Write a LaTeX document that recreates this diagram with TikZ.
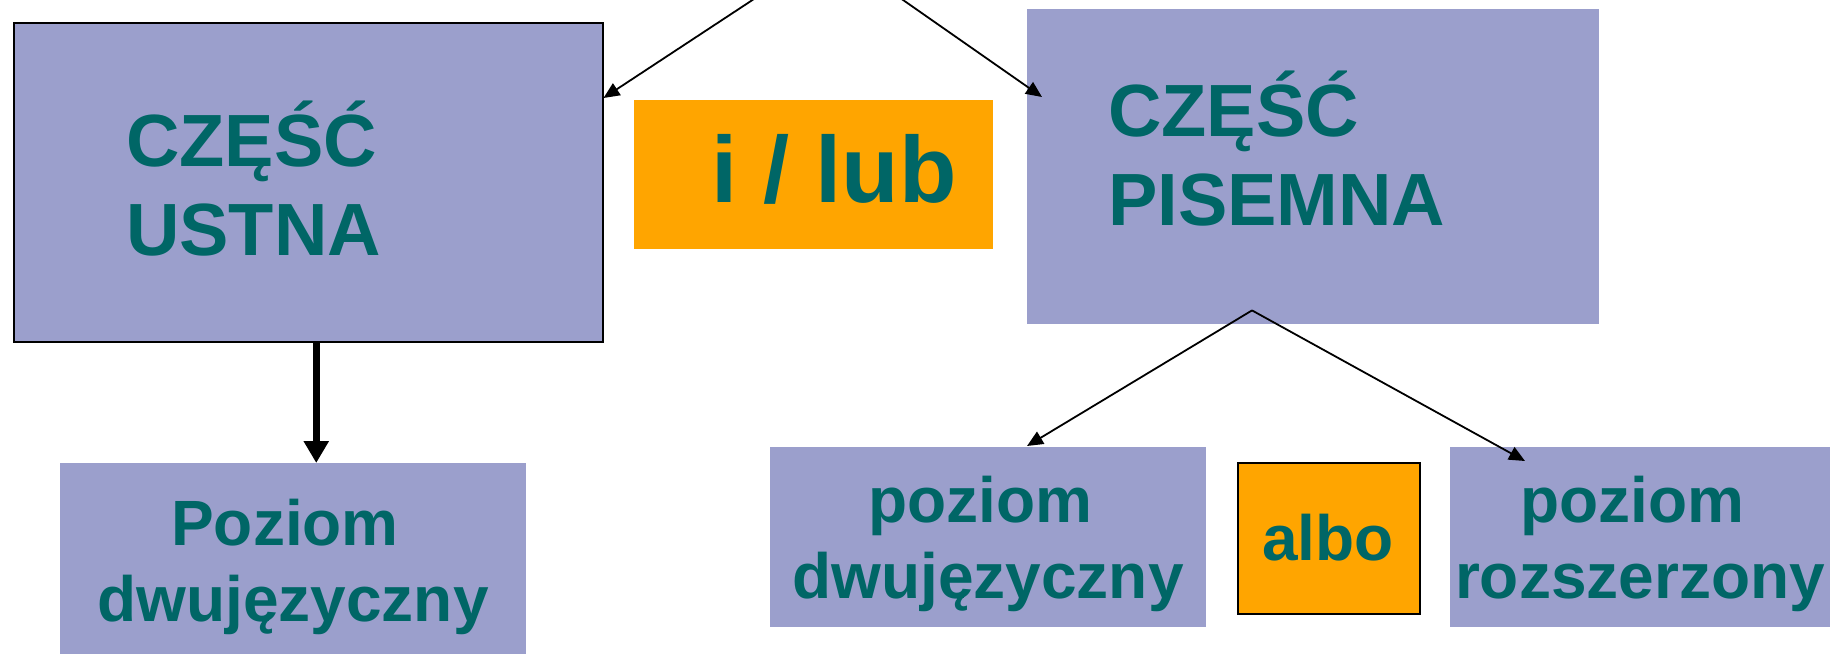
\documentclass[tikz,border=0pt]{standalone}
\usepackage{fontspec}
\setmainfont{Liberation Sans}
\usetikzlibrary{arrows.meta, calc, positioning}

\definecolor{lila}{RGB}{155,159,204}
\definecolor{morski}{RGB}{0,102,102}
\definecolor{pomar}{RGB}{255,165,0}

\tikzset{
  blok/.style={fill=lila, inner sep=0pt, anchor=north west},
  wybor/.style={fill=pomar, inner sep=0pt, anchor=north west},
  duzy/.style={text=morski, inner sep=0pt, align=left, anchor=base west,
    font=\bfseries\fontsize{74}{89}\selectfont},
  maly/.style={text=morski, inner sep=0pt, align=center, anchor=base,
    font=\bfseries\fontsize{64}{76}\selectfont},
  strzalka/.style={line width=1.8pt, -{Triangle[length=16pt, width=14pt]}},
  gruba/.style={line width=7pt, -{Triangle[length=22pt, width=24pt]}}
}
\newcommand{\odstep}{\kern16pt}

\begin{document}
\begin{tikzpicture}[x=1pt, y=-1pt]
  \clip (0,0) rectangle (1830,653);
  \fill[white] (0,0) rectangle (1830,653);

  % gorny rzad
  \node[blok, draw, line width=1.5pt, minimum width=589pt, minimum height=319pt] (ustna) at (13,22) {};
  \node[wybor, minimum width=359pt, minimum height=149pt] (ilub) at (634,100) {};
  \node[blok, minimum width=572pt, minimum height=315pt] (pisemna) at (1027,9) {};

  % dolny rzad
  \node[blok, minimum width=466pt, minimum height=220pt] (dwuj1) at (60,463) {};
  \node[blok, minimum width=436pt, minimum height=180pt] (dwuj2) at (770,447) {};
  \node[wybor, draw, line width=2pt, minimum width=182pt, minimum height=151pt] (albo) at (1237,462) {};
  \node[blok, minimum width=420pt, minimum height=180pt] (rozsz) at (1450,447) {};

  % napisy (punkt = linia bazowa ostatniego wiersza)
  \node[duzy] (t-ustna) at (126,255) {CZĘŚĆ\\USTNA};
  \node[duzy, font=\bfseries\fontsize{94}{113}\selectfont] (t-ilub) at (711,202) {i / lub};
  \node[duzy] (t-pisemna) at (1108,225) {CZĘŚĆ\\PISEMNA};
  \node[maly] (t-dwuj1) at (293,621) {Poziom\odstep\\dwujęzyczny};
  \node[maly] (t-dwuj2) at (988,598) {poziom\odstep\\dwujęzyczny};
  \node[maly] (t-albo) at (1328,560) {albo};
  \node[maly] (t-rozsz) at (1640,598) {poziom\odstep\\rozszerzony};

  % strzalki
  \coordinate (zrodlo) at (830,-51);
  \coordinate (rozwidlenie) at ($(pisemna.south west)+(225,-14)$);
  \draw[strzalka] (zrodlo) -- ($(ustna.north east)+(0,76)$);
  \draw[strzalka] (zrodlo) -- ($(pisemna.north west)+(15,88)$);
  \draw[strzalka] (rozwidlenie) -- ($(dwuj2.north west)+(257,-1)$);
  \draw[strzalka] (rozwidlenie) -- ($(rozsz.north west)+(75,14)$);
  \coordinate (zejscie) at ($(ustna.south)+(8,0)$);
  \draw[gruba] (zejscie) -- (zejscie |- dwuj1.north);
\end{tikzpicture}
\end{document}
